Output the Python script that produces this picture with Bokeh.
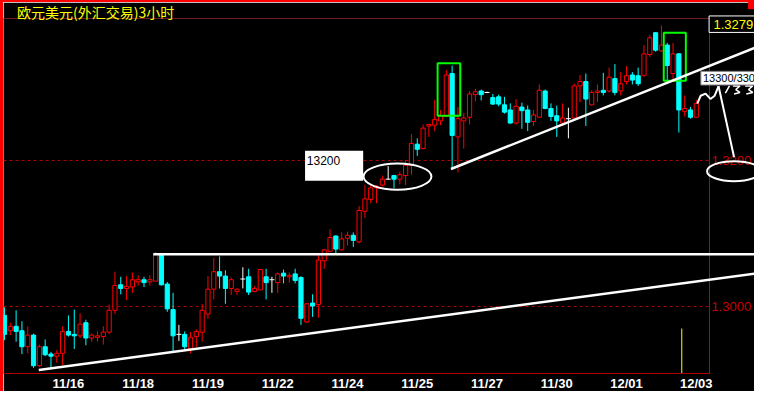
from bokeh.plotting import figure
from bokeh.models import (ColumnDataSource, FixedTicker, LinearAxis, Label,
                          Range1d, NumeralTickFormatter)
from bokeh.core.properties import value
from bokeh.embed import file_html
from bokeh.resources import INLINE

title_text = "欧元美元(外汇交易)3小时"

# ---- EUR/USD 3-hour candles ----
opens = [1.2988, 1.2967, 1.2973, 1.2967, 1.2945, 1.2961, 1.2919, 1.2945, 1.2935, 1.2932,
         1.2936, 1.2966, 1.2962, 1.2960, 1.2978, 1.2957, 1.2958, 1.2959, 1.2965, 1.2995,
         1.3030, 1.3025, 1.3027, 1.3034, 1.3037, 1.3034, 1.3035, 1.3071, 1.3031, 1.2996,
         1.2962, 1.2962, 1.2942, 1.2959, 1.2965, 1.2990, 1.3024, 1.3048, 1.3042, 1.3025,
         1.3021, 1.3038, 1.3041, 1.3021, 1.3023, 1.3041, 1.3037, 1.3033, 1.3046, 1.3041,
         1.3045, 1.3040, 1.2979, 1.3005, 1.3003, 1.3063, 1.3076, 1.3097, 1.3078, 1.3094,
         1.3098, 1.3089, 1.3131, 1.3147, 1.3163, 1.3167, 1.3175, 1.3180, 1.3175, 1.3180,
         1.3194, 1.3223, 1.3217, 1.3248, 1.3249, 1.3255, 1.3261, 1.3320, 1.3233, 1.3255,
         1.3260, 1.3291, 1.3296, 1.3294, 1.3287, 1.3288, 1.3277, 1.3270, 1.3252, 1.3274,
         1.3270, 1.3254, 1.3260, 1.3296, 1.3272, 1.3262, 1.3252, 1.3258, 1.3259, 1.3303,
         1.3309, 1.3277, 1.3294, 1.3297, 1.3296, 1.3313, 1.3296, 1.3309, 1.3318, 1.3317,
         1.3317, 1.3346, 1.3376, 1.3351, 1.3359, 1.3320, 1.3347, 1.3268, 1.3270, 1.3260]
highs = [1.2999, 1.2978, 1.2995, 1.2980, 1.2973, 1.2963, 1.2948, 1.2955, 1.2938, 1.2940,
         1.2973, 1.2988, 1.2996, 1.2991, 1.2982, 1.2963, 1.2966, 1.2973, 1.3003, 1.3048,
         1.3041, 1.3042, 1.3047, 1.3043, 1.3041, 1.3043, 1.3075, 1.3072, 1.3034, 1.3019,
         1.2975, 1.2966, 1.2965, 1.2969, 1.3004, 1.3042, 1.3067, 1.3069, 1.3050, 1.3040,
         1.3025, 1.3054, 1.3052, 1.3028, 1.3052, 1.3052, 1.3041, 1.3047, 1.3051, 1.3047,
         1.3052, 1.3042, 1.3005, 1.3017, 1.3071, 1.3079, 1.3106, 1.3098, 1.3102, 1.3103,
         1.3102, 1.3138, 1.3167, 1.3168, 1.3167, 1.3180, 1.3193, 1.3181, 1.3185, 1.3201,
         1.3237, 1.3231, 1.3250, 1.3251, 1.3284, 1.3270, 1.3325, 1.3331, 1.3274, 1.3266,
         1.3296, 1.3299, 1.3298, 1.3295, 1.3292, 1.3291, 1.3288, 1.3279, 1.3285, 1.3280,
         1.3276, 1.3270, 1.3305, 1.3298, 1.3279, 1.3276, 1.3279, 1.3273, 1.3306, 1.3318,
         1.3320, 1.3297, 1.3305, 1.3321, 1.3328, 1.3333, 1.3322, 1.3330, 1.3322, 1.3328,
         1.3359, 1.3373, 1.3377, 1.3386, 1.3362, 1.3362, 1.3348, 1.3290, 1.3274, 1.3284]
lows = [1.2954, 1.2961, 1.2952, 1.2935, 1.2936, 1.2916, 1.2917, 1.2932, 1.2916, 1.2923,
        1.2920, 1.2959, 1.2942, 1.2957, 1.2947, 1.2952, 1.2952, 1.2948, 1.2962, 1.2990,
        1.3017, 1.3009, 1.3019, 1.3029, 1.3027, 1.3029, 1.3035, 1.3029, 1.2993, 1.2937,
        1.2953, 1.2940, 1.2936, 1.2945, 1.2952, 1.2983, 1.3010, 1.3025, 1.3004, 1.3016,
        1.3016, 1.3025, 1.3016, 1.3020, 1.3023, 1.3010, 1.3019, 1.3019, 1.3032, 1.3033,
        1.3032, 1.2975, 1.2978, 1.2986, 1.2985, 1.3052, 1.3075, 1.3073, 1.3077, 1.3084,
        1.3082, 1.3087, 1.3122, 1.3142, 1.3142, 1.3165, 1.3174, 1.3163, 1.3168, 1.3167,
        1.3181, 1.3207, 1.3216, 1.3233, 1.3241, 1.3249, 1.3260, 1.3190, 1.3184, 1.3217,
        1.3250, 1.3282, 1.3283, 1.3293, 1.3277, 1.3275, 1.3265, 1.3251, 1.3250, 1.3244,
        1.3241, 1.3248, 1.3259, 1.3271, 1.3255, 1.3233, 1.3248, 1.3231, 1.3258, 1.3281,
        1.3248, 1.3276, 1.3281, 1.3290, 1.3294, 1.3290, 1.3290, 1.3305, 1.3305, 1.3303,
        1.3316, 1.3343, 1.3350, 1.3350, 1.3311, 1.3311, 1.3239, 1.3261, 1.3258, 1.3259]
closes = [1.2962, 1.2973, 1.2966, 1.2945, 1.2961, 1.2919, 1.2945, 1.2934, 1.2932, 1.2936,
          1.2966, 1.2961, 1.2960, 1.2976, 1.2957, 1.2961, 1.2960, 1.2965, 1.2995, 1.3029,
          1.3025, 1.3028, 1.3037, 1.3037, 1.3033, 1.3037, 1.3072, 1.3030, 1.2997, 1.2960,
          1.2962, 1.2945, 1.2958, 1.2966, 1.2995, 1.3024, 1.3048, 1.3042, 1.3025, 1.3037,
          1.3024, 1.3038, 1.3020, 1.3025, 1.3051, 1.3033, 1.3037, 1.3045, 1.3042, 1.3043,
          1.3036, 1.2984, 1.3004, 1.3001, 1.3064, 1.3078, 1.3095, 1.3079, 1.3093, 1.3098,
          1.3091, 1.3132, 1.3148, 1.3163, 1.3165, 1.3175, 1.3175, 1.3175, 1.3181, 1.3194,
          1.3224, 1.3216, 1.3245, 1.3250, 1.3257, 1.3262, 1.3318, 1.3235, 1.3258, 1.3259,
          1.3292, 1.3295, 1.3291, 1.3294, 1.3278, 1.3278, 1.3267, 1.3252, 1.3275, 1.3269,
          1.3253, 1.3263, 1.3297, 1.3272, 1.3261, 1.3255, 1.3259, 1.3258, 1.3303, 1.3309,
          1.3285, 1.3294, 1.3296, 1.3294, 1.3315, 1.3294, 1.3306, 1.3317, 1.3311, 1.3306,
          1.3347, 1.3369, 1.3352, 1.3359, 1.3331, 1.3347, 1.3270, 1.3272, 1.3260, 1.3279]

date_tick_idx = [11, 23, 35, 47, 59, 71, 83, 95, 107, 119]
date_labels = ["11/16", "11/18", "11/19", "11/22", "11/24",
               "11/25", "11/27", "11/30", "12/01", "12/03"]
price_ticks = [1.30, 1.32]

# ---- hand-drawn annotations (candle index, price) ----
support_x, support_y = [5.9, 129.6], [1.2913, 1.3046]
neck_x, neck_y = [25.6, 129.6], [1.3072, 1.3072]
rise_x, rise_y = [76.8, 129.6], [1.3189, 1.3357]
green_left, green_right = [74.5, 113.4], [78.4, 117.2]
green_bottom, green_top = [1.3262, 1.3310], [1.3334, 1.3376]

n = len(opens)
xs = list(range(n))
kind = ["up" if c > o else ("down" if c < o else "flat") for o, c in zip(opens, closes)]


def subset(k):
    ids = [i for i in xs if kind[i] == k]
    return ColumnDataSource(dict(
        x=ids,
        high=[highs[i] for i in ids],
        low=[lows[i] for i in ids],
        top=[max(opens[i], closes[i]) for i in ids],
        bottom=[min(opens[i], closes[i]) for i in ids],
        close=[closes[i] for i in ids],
    ))


up_src, down_src, flat_src = subset("up"), subset("down"), subset("flat")

p = figure(width=754, height=391,
           x_range=Range1d(-0.17, 121.27), y_range=Range1d(1.29083, 1.33955),
           output_backend="svg", toolbar_location=None, y_axis_location="right",
           min_border_left=0, min_border_right=48, min_border_top=16, min_border_bottom=17,
           background_fill_color="black", border_fill_color="black",
           outline_line_color=None)
p.styles = {"border-top": "2px solid #ff0000", "border-left": "3px solid #ff0000"}

xa = p.xaxis[0]
xa.ticker = FixedTicker(ticks=date_tick_idx)
xa.major_label_overrides = {t: s for t, s in zip(date_tick_idx, date_labels)}
xa.major_label_text_color = "white"
xa.major_label_text_font = "Liberation Sans"
xa.major_label_text_font_style = "bold"
xa.major_label_text_font_size = "13px"
xa.major_label_standoff = 2
xa.major_tick_line_color = None
xa.minor_tick_line_color = None
xa.major_tick_out = 0
xa.axis_line_color = "#b00000"

ya = p.yaxis[0]
ya.ticker = FixedTicker(ticks=price_ticks)
ya.formatter = NumeralTickFormatter(format="0.0000")
ya.major_label_text_color = "#c80000"
ya.major_label_text_font = "Liberation Sans"
ya.major_label_text_font_size = "13px"
ya.major_label_standoff = 2
ya.major_tick_line_color = None
ya.minor_tick_line_color = None
ya.major_tick_out = 0
ya.axis_line_color = "#c80000"

top_axis = LinearAxis(ticker=FixedTicker(ticks=[]), axis_line_color="#a00000",
                      axis_line_dash="1 1", major_tick_line_color=None,
                      minor_tick_line_color=None, major_label_text_font_size="0px",
                      major_label_standoff=0, major_tick_out=0, minor_tick_out=0)
p.add_layout(top_axis, "above")

p.xgrid.visible = False
p.ygrid.ticker = FixedTicker(ticks=price_ticks)
p.ygrid.grid_line_color = "#b00000"
p.ygrid.grid_line_dash = "3 3"

# title (drawn in the top margin)
p.text(x=[2.17], y=[1.34040], text=[title_text], text_color="#ffff00",
       text_font=value("Noto Sans CJK SC"), text_font_size="14px",
       text_baseline="middle", text_align="left", level="overlay")
# window corner block
p.quad(left=[127.9], right=[129.7], bottom=[1.34083], top=[1.3421],
       fill_color="#ff0000", line_color=None, level="overlay")

# candles
p.segment(x0="x", y0="high", x1="x", y1="low", source=up_src, color="#ff0000", line_width=1)
p.vbar(x="x", width=0.72, top="top", bottom="bottom", source=up_src,
       fill_color="black", line_color="#ff0000", line_width=1)
p.segment(x0="x", y0="high", x1="x", y1="low", source=down_src, color="#00ffff", line_width=1)
p.vbar(x="x", width=0.72, top="top", bottom="bottom", source=down_src,
       fill_color="#00ffff", line_color="#00ffff", line_width=1)
p.segment(x0="x", y0="high", x1="x", y1="low", source=flat_src, color="white", line_width=1)
p.scatter(x="x", y="close", source=flat_src, marker="dash", size=5, color="white")

# indicator marker near the end
p.segment(x0=[116.5], y0=[1.2970], x1=[116.5], y1=[p.y_range.start], color="#ffff00", line_width=1)

# trend lines
for lx, ly in [(support_x, support_y), (neck_x, neck_y), (rise_x, rise_y)]:
    p.line(lx, ly, color="white", line_width=2.5, level="overlay")

# green boxes
p.quad(left=green_left, right=green_right, bottom=green_bottom, top=green_top,
       fill_color=None, line_color="#00ff00", line_width=2)

# ellipses
p.ellipse(x=[67.6], y=[1.31785], width=11.68, height=0.003576,
          fill_color=None, line_color="white", line_width=2)
p.ellipse(x=[125.5], y=[1.3186], width=9.3, height=0.00275,
          fill_color=None, line_color="white", line_width=2, level="overlay")

# 13200 note
p.quad(left=[51.7], right=[61.7], bottom=[1.3173], top=[1.3214],
       fill_color="white", line_color=None)
p.add_layout(Label(x=52.0, y=1.3200, text="13200", text_color="black",
                   text_font="Liberation Sans", text_font_size="12px",
                   text_baseline="middle", text_align="left"))

# squiggle, arrow and hand-writing on the right
p.line([119.17, 119.75, 120.59, 121.43, 122.16, 122.83],
       [1.32786, 1.32895, 1.32925, 1.32851, 1.32895, 1.33026],
       color="white", line_width=2, level="overlay")
p.line([122.83, 125.5], [1.33026, 1.3205], color="white", line_width=2, level="overlay")
p.scatter(x=[125.55], y=[1.3202], marker="inverted_triangle", size=10, angle=0.2,
          color="white", level="overlay")
p.multi_line(xs=[[124.0, 124.7], [125.3, 126.5, 125.8, 126.5, 125.5],
                 [127.4, 128.7, 128.0, 128.7, 127.6]],
             ys=[[1.3293, 1.3303], [1.3303, 1.3303, 1.3298, 1.3294, 1.3292],
                 [1.3303, 1.3303, 1.3298, 1.3294, 1.3292]],
             color="white", line_width=1.5, level="overlay")

# 13300/330 note (runs past the price scale)
p.quad(left=[119.78], right=[129.8], bottom=[1.33042], top=[1.33230],
       fill_color="white", line_color="#808080", line_width=1, level="overlay")
p.text(x=[120.15], y=[1.33136], text=["13300/330"], text_color="black",
       text_font=value("Liberation Sans"), text_font_size="11px",
       text_baseline="middle", text_align="left", level="overlay")

# last price box
p.quad(left=[121.2], right=[129.8], bottom=[1.33764], top=[1.33990],
       fill_color="black", line_color="white", line_width=1, level="overlay")
p.text(x=[121.95], y=[1.33877], text=[f"{closes[-1]:.4f}"], text_color="#ffff00",
       text_font=value("Liberation Sans"), text_font_size="13px",
       text_baseline="middle", text_align="left", level="overlay")

open("out.html", "w").write(file_html(p, INLINE))
